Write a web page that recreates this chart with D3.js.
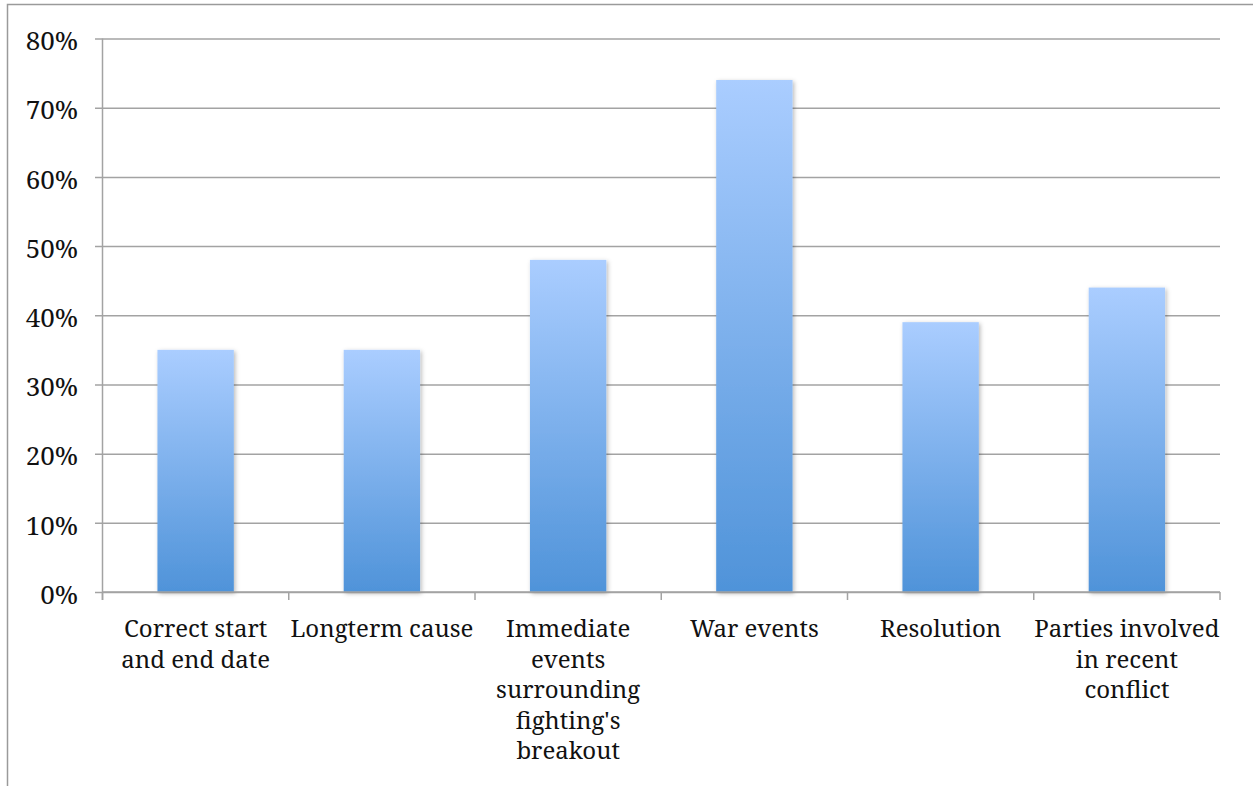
<!DOCTYPE html>
<html>
<head>
<meta charset="utf-8">
<script src="https://cdn.jsdelivr.net/npm/d3@7"></script>
<style>
  html, body { margin: 0; padding: 0; background: #fff; }
  svg { display: block; }
</style>
</head>
<body>
<svg id="chart" width="1253" height="786"></svg>
<script>
// Share of responses covering each topic
const categories = [
  "Correct start and end date",
  "Longterm cause",
  "Immediate events surrounding fighting's breakout",
  "War events",
  "Resolution",
  "Parties involved in recent conflict"
];
const values = [0.35, 0.35, 0.48, 0.74, 0.39, 0.44];
// Category labels broken into the lines they are printed on
const categoryLines = [
  ["Correct start", "and end date"],
  ["Longterm cause"],
  ["Immediate", "events", "surrounding", "fighting's", "breakout"],
  ["War events"],
  ["Resolution"],
  ["Parties involved", "in recent", "conflict"]
];
const yTicks = [0, 0.1, 0.2, 0.3, 0.4, 0.5, 0.6, 0.7, 0.8];

const W = 1253, H = 786;
const FONT = "'Noto Serif', 'Liberation Serif', serif";
const margin = { left: 102.5, right: 33, top: 38.5, bottom: 194 };
const svg = d3.select("#chart");
const lineColor = "#a3a3a3";

// Outer frame (left and top edges)
svg.append("path")
  .attr("d", `M7.5,${H} L7.5,4.5 L${W},4.5`)
  .attr("fill", "none")
  .attr("stroke", "#9a9a9a")
  .attr("stroke-width", 1.5);

const defs = svg.append("defs");
const grad = defs.append("linearGradient")
  .attr("id", "barFill")
  .attr("x1", 0).attr("y1", 0).attr("x2", 0).attr("y2", 1);
grad.append("stop").attr("offset", "0%").attr("stop-color", "#aacdff");
grad.append("stop").attr("offset", "100%").attr("stop-color", "#4f93d9");

const shadow = defs.append("filter")
  .attr("id", "barShadow")
  .attr("x", "-20%").attr("y", "-5%").attr("width", "140%").attr("height", "115%");
shadow.append("feDropShadow")
  .attr("dx", 1.5).attr("dy", 1.5).attr("stdDeviation", 2)
  .attr("flood-color", "#000").attr("flood-opacity", 0.28);

const x = d3.scaleBand()
  .domain(categories)
  .range([margin.left, W - margin.right])
  .paddingInner(0.59)
  .paddingOuter(0.295);

const y = d3.scaleLinear()
  .domain([0, 0.8])
  .range([H - margin.bottom, margin.top]);

// Horizontal gridlines + y axis
const yAxis = d3.axisLeft(y)
  .tickValues(yTicks)
  .tickFormat(d3.format(".0%"))
  .tickSize(-(W - margin.right - margin.left))
  .tickPadding(0);

const gy = svg.append("g")
  .attr("transform", `translate(${margin.left},0)`)
  .call(yAxis);
gy.select(".domain").remove();
gy.selectAll(".tick line")
  .attr("x1", -7.5)
  .attr("stroke", lineColor)
  .attr("stroke-width", 1.5);
gy.selectAll(".tick text")
  .attr("x", -24.5)
  .attr("dy", "0.43em")
  .style("font-family", FONT)
  .style("font-size", "26px")
  .style("fill", "#111");

// Vertical axis line
svg.append("line")
  .attr("x1", margin.left).attr("x2", margin.left)
  .attr("y1", y(0.8)).attr("y2", y(0) + 8)
  .attr("stroke", lineColor).attr("stroke-width", 1.5);

// Bars
svg.append("g")
  .selectAll("rect")
  .data(values)
  .join("rect")
  .attr("x", (d, i) => x(categories[i]))
  .attr("width", x.bandwidth())
  .attr("y", d => y(d))
  .attr("height", d => y(0) - y(d))
  .attr("fill", "url(#barFill)")
  .attr("filter", "url(#barShadow)");

// Baseline and category boundary ticks
svg.append("line")
  .attr("x1", margin.left).attr("x2", W - margin.right)
  .attr("y1", y(0)).attr("y2", y(0))
  .attr("stroke", lineColor).attr("stroke-width", 1.5);

const step = x.step();
const boundaries = d3.range(categories.length + 1).map(i => margin.left + i * step);
svg.append("g")
  .selectAll("line")
  .data(boundaries)
  .join("line")
  .attr("x1", d => d).attr("x2", d => d)
  .attr("y1", y(0)).attr("y2", y(0) + 8)
  .attr("stroke", lineColor).attr("stroke-width", 1.5);

// Category labels
const labels = svg.append("g")
  .selectAll("text")
  .data(categories)
  .join("text")
  .attr("x", d => x(d) + x.bandwidth() / 2)
  .attr("y", y(0) + 45)
  .attr("text-anchor", "middle")
  .style("font-family", FONT)
  .style("font-size", "24px")
  .style("fill", "#111");
labels.each(function (d, i) {
  const t = d3.select(this);
  categoryLines[i].forEach((line, j) => {
    t.append("tspan")
      .attr("x", x(d) + x.bandwidth() / 2)
      .attr("dy", j === 0 ? 0 : 30.5)
      .text(line);
  });
});
</script>
</body>
</html>
